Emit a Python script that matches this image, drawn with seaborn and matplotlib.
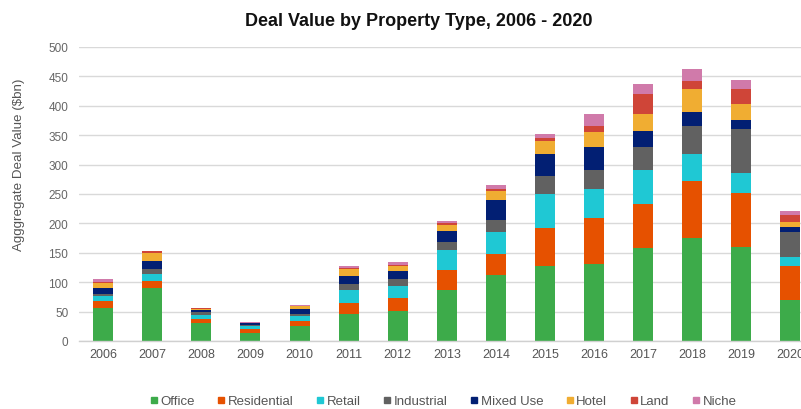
import matplotlib
matplotlib.use("Agg")
import matplotlib.pyplot as plt
from matplotlib.lines import Line2D
import pandas as pd
import seaborn as sns

# Aggregate deal value by property type ($bn)
years = list(range(2006, 2021))
property_types = ["Office", "Residential", "Retail", "Industrial",
                  "Mixed Use", "Hotel", "Land", "Niche"]

office      = [55.3, 90.7, 29.8, 14.2, 25.5, 45.3, 51.6, 87.3, 112.8, 127.6, 131.5, 157.6, 175.7, 159.3, 70.3]
residential = [13.3, 11.9, 8.2, 6.6, 8.9, 19.3, 21.0, 33.1, 34.6, 64.0, 78.3, 75.4, 97.0, 93.0, 57.8]
retail      = [8.5, 11.4, 7.0, 5.4, 7.9, 22.7, 20.4, 33.6, 37.4, 57.8, 48.7, 57.8, 44.8, 32.8, 15.3]
industrial  = [2.9, 8.4, 3.5, 1.4, 3.7, 9.1, 12.4, 14.4, 20.4, 31.2, 32.3, 39.7, 48.7, 76.0, 42.0]
mixed_use   = [9.6, 13.6, 4.2, 2.4, 8.8, 14.6, 13.1, 19.2, 34.0, 36.9, 39.7, 26.5, 22.7, 15.3, 9.0]
hotel       = [9.6, 14.2, 1.5, 0.6, 4.4, 12.0, 9.5, 10.2, 15.8, 22.5, 25.5, 29.0, 39.7, 26.1, 8.6]
land        = [0.8, 2.3, 1.2, 0.6, 0.8, 1.7, 1.3, 3.4, 3.5, 5.2, 10.2, 34.6, 14.1, 26.6, 10.7]
niche       = [6.0, 1.0, 1.1, 1.1, 1.2, 2.3, 5.6, 2.8, 6.8, 6.8, 19.3, 17.0, 19.3, 14.2, 7.4]

colors = ["#3DAB4A", "#E65100", "#1FC8D4", "#616161",
          "#021F73", "#F0AD32", "#CF4538", "#D07AAA"]

series = [office, residential, retail, industrial, mixed_use, hotel, land, niche]
rows = []
for ptype, vals in zip(property_types, series):
    for yr, v in zip(years, vals):
        rows.append({"Year": yr, "Type": ptype, "Value": v})
df = pd.DataFrame(rows)

sns.set_style("white")
plt.rcParams["font.family"] = ["Liberation Sans", "DejaVu Sans"]

fig = plt.figure(figsize=(8.01, 4.10), dpi=100)
ax = fig.add_axes([0.0982, 0.1659, 0.9193, 0.7171])

palette = dict(zip(property_types, colors))
# seaborn stacks the last hue level at the bottom, so reverse the order
sns.histplot(data=df, x="Year", weights="Value", hue="Type",
             hue_order=property_types[::-1], palette=palette,
             multiple="stack", discrete=True, shrink=0.407,
             alpha=1, linewidth=0, legend=False, ax=ax)

ax.set_xlim(2005.5, 2020.5)
ax.set_ylim(0, 500)
ax.set_xticks(years)
ax.set_xticklabels([str(y) for y in years])
ax.set_yticks(range(0, 501, 50))
ax.set_xlabel("")
ax.set_ylabel("")
ax.tick_params(axis="x", length=0, pad=5, labelsize=9, labelcolor="#555555")
ax.tick_params(axis="y", length=0, pad=7.5, labelsize=8.5, labelcolor="#666666")

ax.yaxis.grid(True, color="#D9D9D9", linewidth=1)
ax.xaxis.grid(False)
ax.set_axisbelow(True)
for side in ["left", "right", "top"]:
    ax.spines[side].set_visible(False)
ax.spines["bottom"].set_color("#D0D0D0")
ax.spines["bottom"].set_linewidth(1)

fig.text(419 / 801, 1 - 26 / 410, "Deal Value by Property Type, 2006 - 2020",
         ha="center", va="baseline", fontsize=13, fontweight="bold", color="#111111")
fig.text(19 / 801, 1 - 164.5 / 410, "Agggregate Deal Value ($bn)",
         rotation=90, ha="center", va="center", fontsize=9.6, color="#555555")

handles = [Line2D([0], [0], marker="s", linestyle="none", markersize=5,
                  markerfacecolor=c, markeredgecolor=c) for c in colors]
fig.legend(handles, property_types, loc="center", ncol=8,
           bbox_to_anchor=(443.5 / 801, 1 - 402 / 410), frameon=False,
           fontsize=9.5, labelcolor="#555555", handlelength=0.5,
           handletextpad=0.25, columnspacing=1.75, borderpad=0)

fig.savefig("out.png", dpi=100)
